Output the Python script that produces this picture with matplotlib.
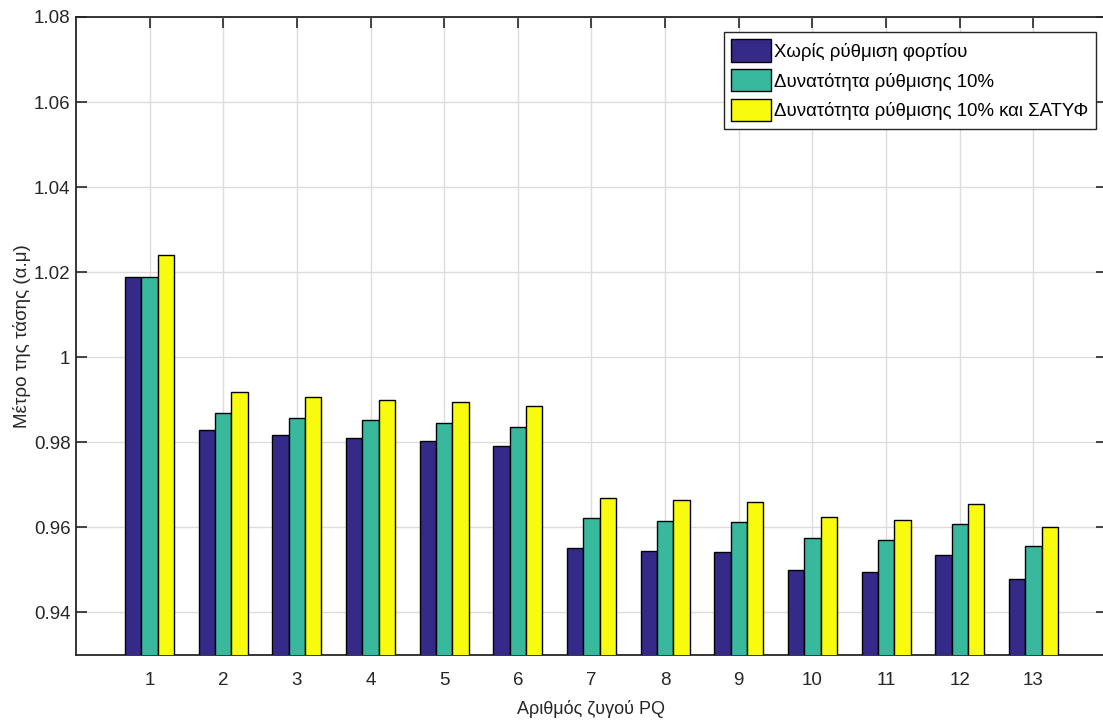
import numpy as np
import matplotlib.pyplot as plt

plt.rcParams['font.family'] = ['Liberation Sans', 'DejaVu Sans']

# Αριθμός ζυγού PQ
zygoi = np.arange(1, 14)

# Μέτρο τάσης ανά ζυγό (α.μ)
xoris_rythmisi = [1.0188, 0.9828, 0.9816, 0.9809, 0.9803, 0.9792, 0.9552,
                  0.9545, 0.9541, 0.9500, 0.9495, 0.9536, 0.9479]
rythmisi_10 = [1.0188, 0.9869, 0.9858, 0.9852, 0.9845, 0.9836, 0.9622,
               0.9616, 0.9613, 0.9576, 0.9571, 0.9608, 0.9557]
rythmisi_10_satyf = [1.0241, 0.9918, 0.9907, 0.9900, 0.9894, 0.9885, 0.9670,
                     0.9664, 0.9660, 0.9624, 0.9618, 0.9656, 0.9602]

onomata = ['Χωρίς ρύθμιση φορτίου',
           'Δυνατότητα ρύθμισης 10%',
           'Δυνατότητα ρύθμισης 10% και ΣΑΤΥΦ']
xromata = ['#352a87', '#38b99e', '#f9fb0e']

y_ticks = [0.94, 0.96, 0.98, 1.00, 1.02, 1.04, 1.06, 1.08]
y_labels = ['0.94', '0.96', '0.98', '1', '1.02', '1.04', '1.06', '1.08']

fig = plt.figure(figsize=(11.03, 7.25), dpi=100)
ax = fig.add_axes([0.0689, 0.0966, 0.9347, 0.88])

platos = 0.222
seires = [xoris_rythmisi, rythmisi_10, rythmisi_10_satyf]
for i, (timi, onoma, xroma) in enumerate(zip(seires, onomata, xromata)):
    ax.bar(zygoi + (i - 1) * platos, timi, width=platos, color=xroma,
           edgecolor='black', linewidth=1.0, label=onoma, zorder=3)

ax.set_xlim(0, 14)
ax.set_ylim(0.93, 1.08)
ax.set_xticks(zygoi)
ax.set_yticks(y_ticks)
ax.set_yticklabels(y_labels)

ax.grid(True, color='#dcdcdc', linewidth=1.0, zorder=0)
ax.set_axisbelow(True)
ax.tick_params(direction='in', length=8, width=1.2, top=True, right=True,
               labelsize=13.5, colors='#262626')
ax.tick_params(axis='x', pad=12)
ax.tick_params(axis='y', pad=4)
for s in ax.spines.values():
    s.set_color('#262626')
    s.set_linewidth(1.3)

ax.set_xlabel('Αριθμός ζυγού PQ', fontsize=13, color='#262626', labelpad=8)
ax.set_ylabel('Μέτρο της τάσης (α.μ)', fontsize=13.5, color='#262626', labelpad=2)

leg = ax.legend(loc='upper right', bbox_to_anchor=(0.9893, 0.9765), fontsize=13.4,
                fancybox=False, framealpha=1, edgecolor='#262626',
                handlelength=2.1, handleheight=1.45, handletextpad=0.2,
                labelspacing=0.42, borderpad=0.4, borderaxespad=0)
leg.get_frame().set_linewidth(1.0)

fig.savefig('out.png', dpi=100)
